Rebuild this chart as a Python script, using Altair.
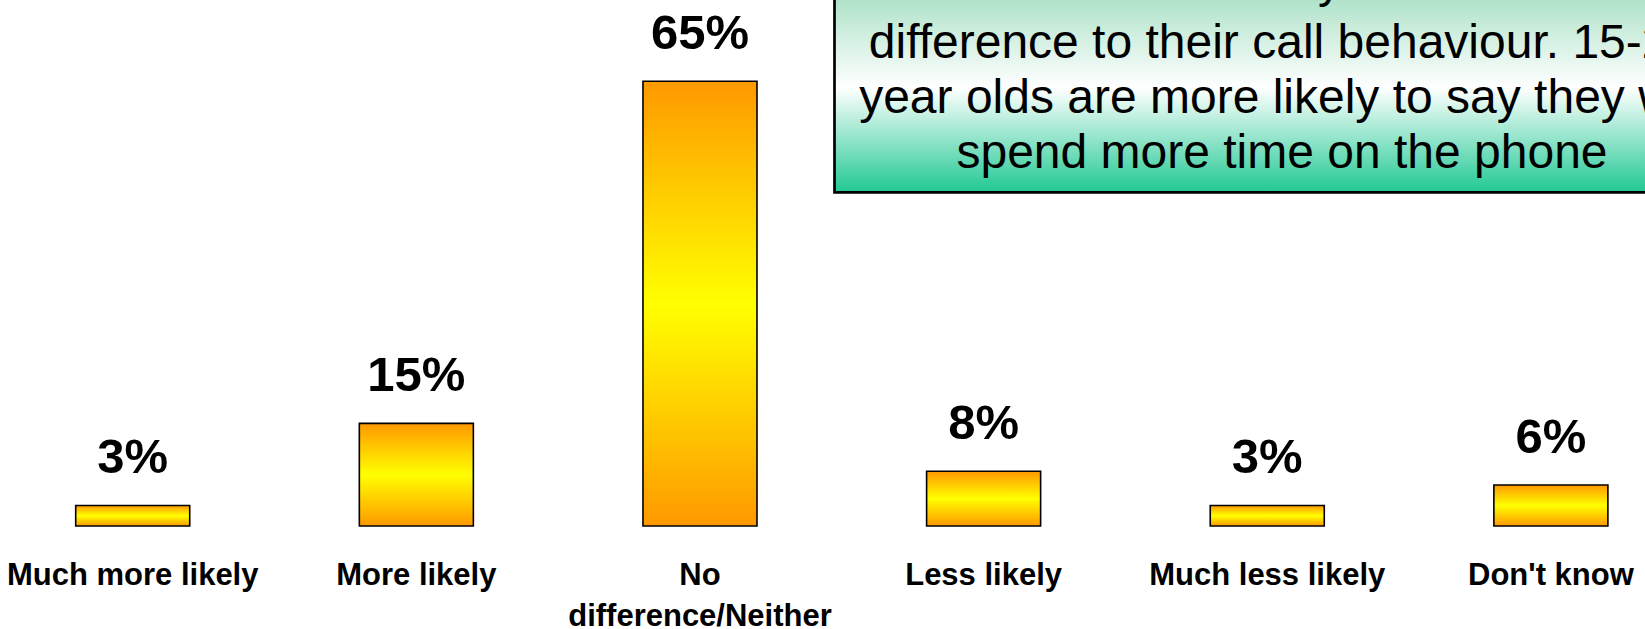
import altair as alt
import pandas as pd

categories = ["Much more likely", "More likely", "No difference/Neither",
              "Less likely", "Much less likely", "Don't know"]
values = [3, 15, 65, 8, 3, 6]
value_labels = ["3%", "15%", "65%", "8%", "3%", "6%"]
box_top_line = ["Most older children say it would make no"]
box_lines = [
    "difference to their call behaviour. 15-24",
    "year olds are more likely to say they will",
    "spend more time on the phone",
]

df = pd.DataFrame({"category": categories, "value": values, "label": value_labels})

FONT = "Liberation Sans"

bar_gradient = alt.Gradient(
    gradient="linear", x1=0, y1=0, x2=0, y2=1,
    stops=[
        alt.GradientStop(color="#ff9900", offset=0),
        alt.GradientStop(color="#ffff00", offset=0.5),
        alt.GradientStop(color="#ff9900", offset=1),
    ],
)

box_gradient = alt.Gradient(
    gradient="linear", x1=0, y1=0, x2=0, y2=1,
    stops=[
        alt.GradientStop(color="#9fdbbf", offset=0),
        alt.GradientStop(color="#b0e3ca", offset=0.17),
        alt.GradientStop(color="#ffffff", offset=0.55),
        alt.GradientStop(color="#20c893", offset=1),
    ],
)

x_enc = alt.X(
    "category:N",
    sort=categories,
    scale=alt.Scale(range=[75.7, 1607.9], paddingInner=0.598, paddingOuter=0),
    axis=alt.Axis(
        title=None,
        domain=False,
        ticks=False,
        tickSize=0,
        labelAngle=0,
        labelFont=FONT,
        labelFontSize=31,
        labelFontWeight="bold",
        labelColor="black",
        labelPadding=58,
        labelBaseline="alphabetic",
        labelLineHeight=41,
        labelLimit=0,
        labelOverlap=False,
        labelExpr="datum.label == 'No difference/Neither' ? ['No', 'difference/Neither'] : datum.label",
    ),
)
y_enc = alt.Y("value:Q", scale=alt.Scale(domain=[0, 76.87]), axis=None)

base = alt.Chart(df)

bars = base.mark_bar(fill=bar_gradient, stroke="black", strokeWidth=1.6).encode(
    x=x_enc, y=y_enc
)

labels = base.mark_text(
    dy=-32, baseline="alphabetic", align="center",
    font=FONT, fontSize=49, fontWeight="bold", color="black",
).encode(x=x_enc, y=y_enc, text="label:N")

one = pd.DataFrame({"k": [0]})

box = alt.Chart(one).mark_rect(
    fill=box_gradient, stroke="black", strokeWidth=2.7
).encode(
    x=alt.value(834.5), x2=alt.value(1760), y=alt.value(-40), y2=alt.value(192.3)
)

box_top = alt.Chart(one).mark_text(
    text=box_top_line, align="center", baseline="alphabetic",
    font=FONT, fontSize=48, color="black",
).encode(x=alt.value(1282), y=alt.value(-3))

box_text = alt.Chart(one).mark_text(
    text=box_lines, align="center", baseline="alphabetic",
    font=FONT, fontSize=48, lineHeight=55, color="black",
).encode(x=alt.value(1282), y=alt.value(58))

chart = alt.layer(bars, labels, box, box_top, box_text).properties(
    width=1645,
    height=526,
    autosize=alt.AutoSizeParams(type="none"),
    padding={"left": 0, "top": 0, "right": 0, "bottom": 103},
    background="white",
).configure_view(stroke=None)

chart.save("out.html", embed_options={"renderer": "svg", "actions": False})
